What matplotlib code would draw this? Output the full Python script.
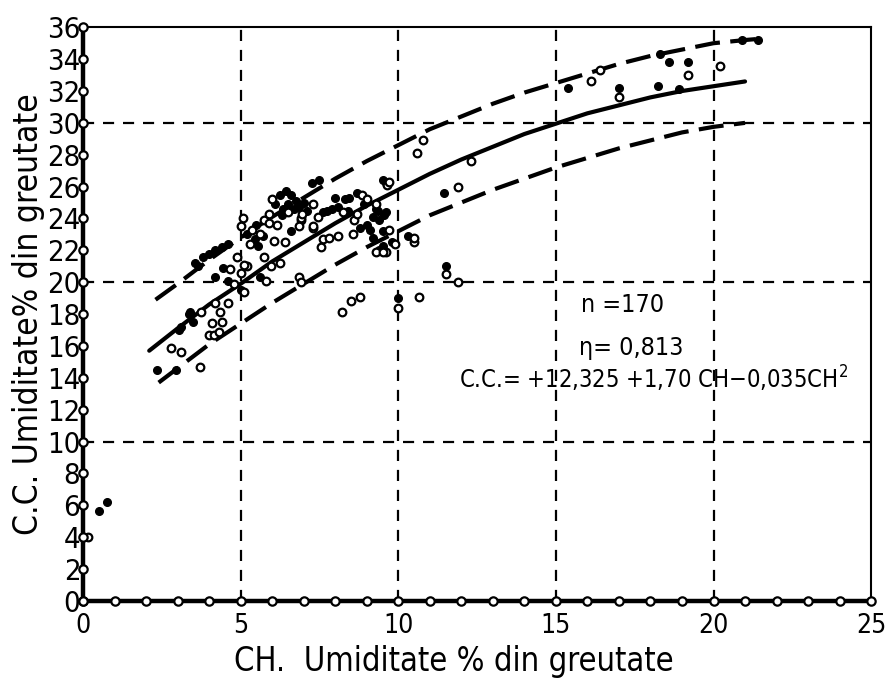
import matplotlib
matplotlib.use("Agg")
import matplotlib.pyplot as plt
from matplotlib import font_manager
import numpy as np

# ---------------- data ----------------
# fitted curve (solid)
fit_x = [2.1, 3, 4, 5, 6, 7, 8, 9, 10, 11, 12, 13, 14, 15, 16, 17, 18, 19, 20, 21]
fit_y = [15.7, 17.1, 18.6, 19.9, 21.3, 22.5, 23.7, 24.8, 25.8, 26.8, 27.7, 28.5, 29.3,
         29.95, 30.6, 31.1, 31.6, 32.0, 32.3, 32.6]
# upper dashed band
up_x = [2.3, 3, 4, 5, 6, 7, 8, 9, 10, 11, 12, 13, 14, 15, 16, 17, 18, 19, 20, 21, 21.6]
up_y = [18.9, 19.9, 21.4, 22.8, 24.1, 25.3, 26.5, 27.6, 28.6, 29.6, 30.4, 31.2, 31.9,
        32.5, 33.1, 33.7, 34.2, 34.6, 35.0, 35.2, 35.3]
# lower dashed band
lo_x = [2.4, 3, 4, 5, 6, 7, 8, 9, 10, 11, 12, 13, 14, 15, 16, 17, 18, 19, 20, 21]
lo_y = [13.7, 14.6, 16.1, 17.4, 18.7, 19.9, 21.1, 22.2, 23.2, 24.2, 25.0, 25.8, 26.5,
        27.2, 27.8, 28.4, 28.9, 29.4, 29.75, 30.0]

# observations: filled dots
filled_x = [0.5, 0.75, 2.35, 2.95, 3.05, 3.1, 3.35, 3.4, 3.5, 5.0, 3.66, 3.56, 4.2, 4.6,
            5.6, 3.8, 4.0, 4.2, 4.4, 4.6, 5.2, 5.5, 5.7, 5.45,
            6.25, 6.45, 6.6, 6.75, 6.85, 6.7, 6.5, 6.35, 7.25, 7.5,
            7.6, 7.75, 7.9, 8.1, 8.3, 8.45, 8.7, 8.9, 8.4,
            9.0, 9.1, 9.2, 9.2, 9.3, 9.4, 9.5, 9.55, 9.6, 9.5, 9.4, 9.8, 10.3,
            9.35, 9.5, 9.6, 11.45, 15.4, 17.0, 18.25, 18.9, 18.3, 18.6, 19.2,
            20.9, 21.4, 10.0, 11.5,
            6.1, 6.3, 7.0, 7.1, 8.0, 8.8, 5.55, 6.6, 4.45]
filled_y = [5.65, 6.2, 14.5, 14.5, 17.0, 17.2, 18.0, 18.1, 17.5, 19.5, 21.0, 21.2, 20.3, 20.1,
            20.3, 21.6, 21.8, 22.0, 22.2, 22.4, 23.0, 23.6, 22.9, 22.7,
            25.5, 25.7, 25.5, 25.1, 24.7, 24.6, 24.9, 24.6, 26.2, 26.4,
            24.4, 24.5, 24.6, 24.7, 25.2, 25.3, 25.6, 24.9, 24.5,
            23.6, 23.3, 22.8, 24.1, 24.6, 23.9, 23.2, 24.2, 24.4, 22.3, 22.0, 22.5, 22.9,
            24.5, 26.4, 26.2, 25.6, 32.2, 32.2, 32.3, 32.1, 34.3, 33.8, 33.8,
            35.2, 35.2, 19.0, 21.0,
            24.9, 24.2, 25.0, 24.5, 25.3, 23.4, 22.3, 23.2, 20.9]
# observations: open circles
hollow_x = [0.15, 3.7, 2.8, 3.1, 3.75, 4.0, 4.15, 4.3, 4.1, 4.4, 4.35, 4.2, 4.6, 5.1,
            4.65, 5.0, 5.2, 5.8, 6.25, 6.85, 5.1, 4.9, 5.75, 6.4,
            5.06, 5.0, 5.35, 5.6, 5.75, 5.3, 5.9, 5.9, 6.0,
            6.5, 6.9, 6.85, 6.9, 6.95, 7.3, 7.3, 8.85, 8.25,
            7.6, 7.8, 8.1, 8.55, 8.6, 9.6, 9.9, 10.5, 10.5, 9.3, 9.5, 9.3,
            9.65, 9.7, 9.7, 7.55, 7.3, 10.6, 10.8, 11.9, 12.3, 16.1, 16.4, 17.0,
            19.2, 20.2, 8.2, 8.5, 8.8, 10.0, 10.65, 11.5, 11.9, 6.9,
            6.15, 7.45, 8.7, 9.0, 6.05, 4.8, 5.95]
hollow_y = [4.0, 14.7, 15.9, 15.6, 18.1, 16.7, 16.7, 16.9, 17.45, 17.5, 18.1, 18.7, 18.7, 19.4,
            20.8, 20.6, 21.0, 20.1, 21.2, 20.3, 21.1, 21.6, 21.6, 22.5,
            24.0, 23.5, 23.3, 23.0, 23.9, 22.4, 24.3, 23.7, 25.2,
            24.4, 23.9, 23.5, 24.0, 24.3, 24.9, 23.4, 25.5, 24.4,
            22.7, 22.8, 22.9, 23.0, 23.9, 21.9, 22.4, 22.5, 22.8, 21.9, 21.9, 24.9,
            26.1, 26.3, 23.3, 22.2, 23.5, 28.1, 28.9, 26.0, 27.6, 32.6, 33.3, 31.6,
            33.0, 33.6, 18.1, 18.8, 19.1, 18.4, 19.1, 20.5, 20.0, 20.0,
            23.6, 24.1, 24.3, 25.2, 22.6, 19.9, 21.0]

x_major = [0, 5, 10, 15, 20, 25]
x_minor = list(range(0, 26))
y_major = list(range(0, 37, 2))
grid_x = [5, 10, 15, 20]
grid_y = [10, 20, 30]

xlabel = "CH.  Umiditate % din greutate"
ylabel = "C.C. Umiditate% din greutate"
ann_n = "n =170"
ann_eta = "η= 0,813"
ann_eq = "C.C.= +12,325 +1,70 CH−0,035CH$^{2}$"

# ---------------- figure ----------------
cond = [f for f in font_manager.fontManager.ttflist
        if f.name == 'DejaVu Sans' and 'ondensed' in f.fname and 'Bold' not in f.fname
        and 'Oblique' not in f.fname]
if cond:
    plt.rcParams['font.family'] = ['DejaVu Sans']
    plt.rcParams['font.stretch'] = 'condensed'
else:
    plt.rcParams['font.family'] = ['Liberation Sans', 'DejaVu Sans']
plt.rcParams['mathtext.fontset'] = 'custom'
plt.rcParams['mathtext.rm'] = plt.rcParams['font.family'][0]

fig = plt.figure(figsize=(8.88, 6.82), dpi=100)
ax = fig.add_axes([0.0935, 0.119, 0.8875, 0.841])
ax.set_xlim(0, 25)
ax.set_ylim(0, 36)

for gx in grid_x:
    ax.axvline(gx, color='black', lw=1.6, ls=(0, (5, 4)), zorder=1)
for gy in grid_y:
    ax.axhline(gy, color='black', lw=1.6, ls=(0, (5, 4)), zorder=1)

ax.plot(fit_x, fit_y, color='black', lw=3.0, solid_capstyle='round', zorder=3)
ax.plot(up_x, up_y, color='black', lw=3.0, ls=(0, (6, 2.5)), zorder=3)
ax.plot(lo_x, lo_y, color='black', lw=3.0, ls=(0, (6, 2.5)), zorder=3)

ax.plot(filled_x, filled_y, 'o', ms=5.5, mfc='black', mec='black', zorder=4)
ax.plot(hollow_x, hollow_y, 'o', ms=5.5, mfc='white', mec='black', mew=1.6, zorder=4)

# axis circles
ax.plot(x_minor, [0] * len(x_minor), 'o', ms=6, mfc='white', mec='black', mew=1.6,
        clip_on=False, zorder=6)
ax.plot([0] * len(y_major), y_major, 'o', ms=6, mfc='white', mec='black', mew=1.6,
        clip_on=False, zorder=6)

for s in ['left', 'bottom']:
    ax.spines[s].set_linewidth(3.2)
for s in ['top', 'right']:
    ax.spines[s].set_linewidth(1.5)

ax.set_xticks(x_major)
ax.set_yticks(y_major)
ax.tick_params(axis='x', length=0, labelsize=19, pad=9)
ax.tick_params(axis='y', length=0, labelsize=21, pad=2)

ax.set_xlabel(xlabel, fontsize=23.5)
ax.xaxis.set_label_coords(0.47, -0.077)
ax.set_ylabel(ylabel, fontsize=24, labelpad=1)

ax.text(17.1, 18.6, ann_n, fontsize=18, ha='center', va='center')
ax.text(17.4, 15.9, ann_eta, fontsize=18, ha='center', va='center')
ax.text(18.1, 13.9, ann_eq, fontsize=17, ha='center', va='center')

fig.savefig('out.png', dpi=100)
